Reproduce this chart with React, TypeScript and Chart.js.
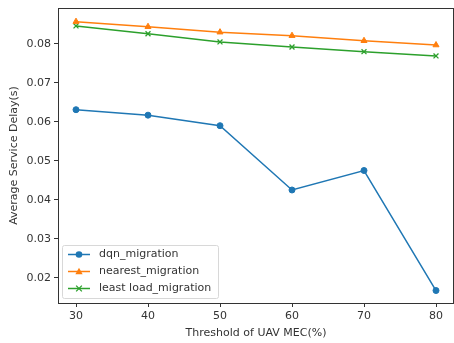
import React, { useEffect, useRef } from "react";
import { Chart, registerables } from "chart.js";

Chart.register(...registerables);

const thresholds = [30, 40, 50, 60, 70, 80];
const dqnMigration = [0.0631, 0.0617, 0.059, 0.0425, 0.0475, 0.0167];
const nearestMigration = [0.0857, 0.0844, 0.083, 0.0821, 0.0808, 0.0797];
const leastLoadMigration = [0.0846, 0.0826, 0.0805, 0.0792, 0.078, 0.0769];
const xTicks = [30, 40, 50, 60, 70, 80];
const yTicks = [0.02, 0.03, 0.04, 0.05, 0.06, 0.07, 0.08];

const FONT = "'DejaVu Sans', sans-serif";
const TEXT = "#333";

const framePlugin = {
  id: "frame",
  afterDatasetsDraw(chart: any) {
    const { ctx, chartArea } = chart;
    ctx.save();
    ctx.strokeStyle = "#333";
    ctx.lineWidth = 1;
    ctx.strokeRect(chartArea.left + 0.5, chartArea.top + 0.5, chartArea.right - chartArea.left - 1, chartArea.bottom - chartArea.top);
    ctx.restore();
  },
};

function drawMarker(ctx: CanvasRenderingContext2D, style: string, x: number, y: number, r: number, color: string) {
  ctx.save();
  ctx.fillStyle = color;
  ctx.strokeStyle = color;
  ctx.lineWidth = 1.3;
  ctx.beginPath();
  if (style === "circle") {
    ctx.arc(x, y, r, 0, Math.PI * 2);
    ctx.fill();
  } else if (style === "triangle") {
    ctx.moveTo(x, y - r);
    ctx.lineTo(x + r * 0.95, y + r * 0.7);
    ctx.lineTo(x - r * 0.95, y + r * 0.7);
    ctx.closePath();
    ctx.fill();
  } else {
    ctx.moveTo(x - r * 0.75, y - r * 0.75);
    ctx.lineTo(x + r * 0.75, y + r * 0.75);
    ctx.moveTo(x + r * 0.75, y - r * 0.75);
    ctx.lineTo(x - r * 0.75, y + r * 0.75);
    ctx.stroke();
  }
  ctx.restore();
}

const legendPlugin = {
  id: "innerLegend",
  afterDraw(chart: any) {
    const { ctx, chartArea } = chart;
    const x0 = chartArea.left + 4;
    const y0 = chartArea.bottom - 58;
    const w = 156;
    const h = 53;
    ctx.save();
    ctx.fillStyle = "rgba(255,255,255,0.85)";
    ctx.strokeStyle = "#d8d8d8";
    ctx.lineWidth = 1;
    ctx.beginPath();
    if (ctx.roundRect) ctx.roundRect(x0 + 0.5, y0 + 0.5, w, h, 2);
    else ctx.rect(x0 + 0.5, y0 + 0.5, w, h);
    ctx.fill();
    ctx.stroke();
    chart.data.datasets.forEach((ds: any, i: number) => {
      const cy = y0 + 9.5 + i * 17;
      ctx.strokeStyle = ds.borderColor;
      ctx.lineWidth = 1.5;
      ctx.beginPath();
      ctx.moveTo(x0 + 6, cy);
      ctx.lineTo(x0 + 28, cy);
      ctx.stroke();
      drawMarker(ctx, ds.pointStyle, x0 + 17, cy, ds.pointRadius + 0.3, ds.borderColor);
      ctx.fillStyle = TEXT;
      ctx.font = `11px ${FONT}`;
      ctx.textBaseline = "middle";
      ctx.textAlign = "left";
      ctx.fillText(ds.label, x0 + 37, cy);
    });
    ctx.restore();
  },
};

export default function App() {
  const ref = useRef<HTMLCanvasElement | null>(null);
  useEffect(() => {
    document.body.style.margin = "0";
    const mk = (label: string, data: number[], color: string, style: string, r: number) => ({
      label,
      data: thresholds.map((x, i) => ({ x, y: data[i] })),
      borderColor: color,
      backgroundColor: color,
      borderWidth: 1.5,
      pointStyle: style,
      pointRadius: r,
      pointBorderWidth: style === "crossRot" ? 1.3 : 1,
      tension: 0,
    });
    const chart = new Chart(ref.current!, {
      type: "line",
      data: {
        datasets: [
          mk("dqn_migration", dqnMigration, "#1f77b4", "circle", 3),
          mk("nearest_migration", nearestMigration, "#ff7f0e", "triangle", 3.5),
          mk("least load_migration", leastLoadMigration, "#2ca02c", "crossRot", 3.5),
        ] as any,
      },
      options: {
        animation: false,
        responsive: false,
        layout: { autoPadding: false, padding: { top: 8, left: 0, right: -2, bottom: 0 } },
        plugins: { legend: { display: false }, tooltip: { enabled: false } },
        scales: {
          x: {
            type: "linear",
            min: 27.5,
            max: 82.5,
            afterBuildTicks: (s: any) => {
              s.ticks = xTicks.map((v) => ({ value: v }));
            },
            afterFit: (s: any) => {
              s.height = 40;
              s.paddingLeft = 0;
              s.paddingRight = 0;
            },
            ticks: { font: { family: FONT, size: 11 }, color: TEXT, padding: 3, maxRotation: 0 },
            grid: { display: true, drawOnChartArea: false, drawTicks: true, tickLength: 4, color: "#333" },
            border: { display: true, color: "#333" },
            title: { display: true, text: "Threshold of UAV MEC(%)", font: { family: FONT, size: 11 }, color: TEXT, padding: { top: 2, bottom: 3 } },
          },
          y: {
            type: "linear",
            min: 0.0135,
            max: 0.0892,
            afterBuildTicks: (s: any) => {
              s.ticks = yTicks.map((v) => ({ value: v }));
            },
            afterFit: (s: any) => {
              s.width = 58;
              s.paddingTop = 0;
              s.paddingBottom = 0;
            },
            ticks: { font: { family: FONT, size: 11 }, color: TEXT, padding: 3, callback: (v: any) => Number(v).toFixed(2) },
            grid: { display: true, drawOnChartArea: false, drawTicks: true, tickLength: 4, color: "#333" },
            border: { display: true, color: "#333" },
            title: { display: true, text: "Average Service Delay(s)", font: { family: FONT, size: 11 }, color: TEXT, padding: { top: 8, bottom: 0 } },
          },
        },
      } as any,
      plugins: [framePlugin, legendPlugin],
    });
    return () => chart.destroy();
  }, []);
  return <canvas ref={ref} width={454} height={343} style={{ display: "block" }} />;
}
